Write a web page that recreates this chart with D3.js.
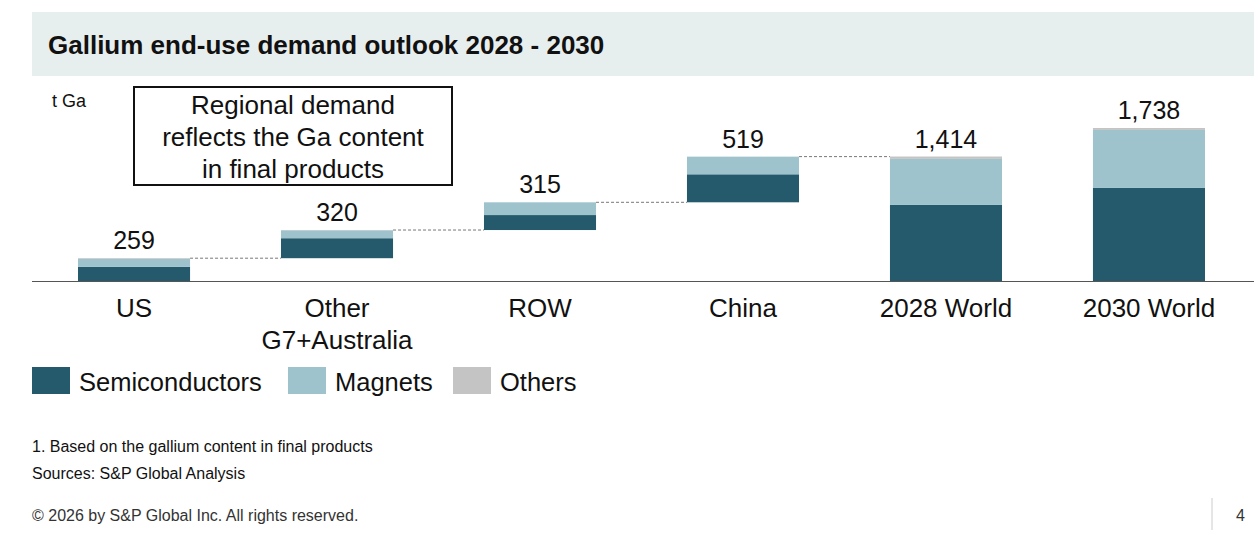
<!DOCTYPE html>
<html><head><meta charset="utf-8">
<script src="https://cdn.jsdelivr.net/npm/d3@7"></script>
<style>body{margin:0;background:#fff;font-family:Arial,"Liberation Sans",sans-serif}</style>
</head><body><svg id="c" width="1254" height="557"></svg>
<script>
const categories=["US","Other\nG7+Australia","ROW","China","2028 World","2030 World"];
const semis=[160,227,170,318,864,1057];
const magnets=[90,90,145,200,523,659];
const others=[9,3,0,1,27,22];
const totals=[259,320,315,519,1414,1738];
const isTotal=[false,false,false,false,true,true];
const seriesNames=["Semiconductors","Magnets","Others"];
const colors=["#245a6b","#9fc3cd","#c4c4c4"];

const svg=d3.select("#c");
svg.append("rect").attr("x",32).attr("y",12).attr("width",1222).attr("height",64).attr("fill","#e7eeee");
svg.append("text").attr("x",48).attr("y",54).attr("font-size",26).attr("font-weight","bold").attr("fill","#111").text("Gallium end-use demand outlook 2028 - 2030");

const x=d3.scaleBand().domain(categories).range([78,1205]).paddingInner(0.448).paddingOuter(0);
const y=d3.scaleLinear().domain([0,1738]).range([281,128]);

let cum=0;const bases=categories.map((c,i)=>{if(isTotal[i])return 0;const b=cum;cum+=totals[i];return b;});
const g=svg.append("g");
categories.forEach((c,i)=>{
  let b=bases[i];
  [semis,magnets,others].forEach((s,k)=>{
    g.append("rect").attr("x",x(c)).attr("width",x.bandwidth())
     .attr("y",y(b+s[i])).attr("height",y(b)-y(b+s[i])).attr("fill",colors[k]);
    b+=s[i];
  });
  g.append("text").attr("x",x(c)+x.bandwidth()/2).attr("y",y(bases[i]+totals[i])-9)
   .attr("text-anchor","middle").attr("font-size",25).attr("fill","#111").text(d3.format(",")(totals[i]));
  const lines=c.split("\n");
  lines.forEach((l,j)=>g.append("text").attr("x",x(c)+x.bandwidth()/2).attr("y",317+j*32)
   .attr("text-anchor","middle").attr("font-size",26).attr("fill","#111").text(l));
  if(i<4){
    const top=y(bases[i]+totals[i]);
    g.append("line").attr("x1",x(c)+x.bandwidth()).attr("x2",x(categories[i+1])).attr("y1",top).attr("y2",top)
     .attr("stroke","#777").attr("stroke-dasharray","3,2").attr("stroke-width",1);
  }
});
svg.append("line").attr("x1",32).attr("x2",1254).attr("y1",281.5).attr("y2",281.5).attr("stroke","#555").attr("stroke-width",1.2);
svg.append("text").attr("x",52).attr("y",107).attr("font-size",18).attr("fill","#111").text("t Ga");
svg.append("rect").attr("x",134).attr("y",87).attr("width",318).attr("height",98).attr("fill","#fff").attr("stroke","#111").attr("stroke-width",2);
["Regional demand","reflects the Ga content","in final products"].forEach((t,j)=>
  svg.append("text").attr("x",293).attr("y",114+j*32).attr("text-anchor","middle").attr("font-size",26).attr("fill","#111").text(t));
const lx=[32,288,453];
seriesNames.forEach((n,k)=>{
  svg.append("rect").attr("x",lx[k]).attr("y",367).attr("width",38).attr("height",27).attr("fill",colors[k]);
  svg.append("text").attr("x",lx[k]+47).attr("y",391).attr("font-size",25.5).attr("fill","#111").text(n);
});
svg.append("text").attr("x",32).attr("y",452).attr("font-size",16).attr("fill","#111").text("1. Based on the gallium content in final products");
svg.append("text").attr("x",32).attr("y",479).attr("font-size",16).attr("fill","#111").text("Sources: S&P Global Analysis");
svg.append("text").attr("x",32).attr("y",521).attr("font-size",16).attr("fill","#333").text("© 2026 by S&P Global Inc. All rights reserved.");
svg.append("line").attr("x1",1212).attr("x2",1212).attr("y1",498).attr("y2",530).attr("stroke","#ccc");
svg.append("text").attr("x",1236).attr("y",521).attr("font-size",16).attr("fill","#333").text("4");
</script></body></html>
